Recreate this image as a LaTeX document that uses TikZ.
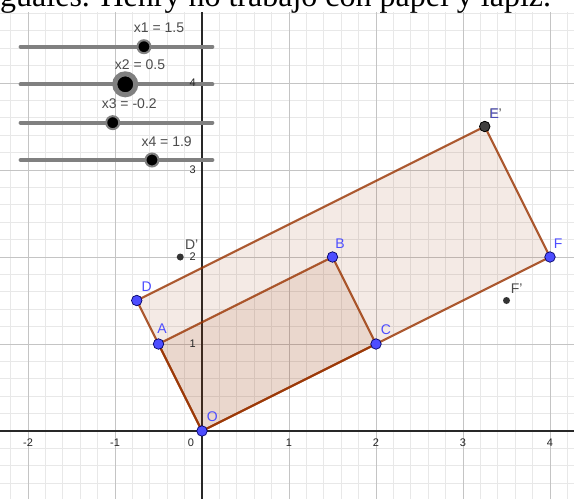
\documentclass[tikz,border=0pt]{standalone}
\usepackage{fontspec}
\setmainfont{Liberation Sans}
\newfontfamily\serifdoc{Liberation Serif}
\usetikzlibrary{calc}
\definecolor{poly}{RGB}{153,51,0}
\definecolor{ptblue}{RGB}{77,77,255}
\definecolor{gridminor}{RGB}{232,232,232}
\definecolor{gridmajor}{RGB}{196,196,196}
\definecolor{axiscol}{RGB}{40,40,40}
\definecolor{slidergray}{RGB}{128,128,128}
\tikzset{
  bpt/.style={circle, fill=ptblue, draw=black!60!blue, line width=0.7pt, minimum size=10.5pt, inner sep=0},
  kpt/.style={circle, fill=black!80, minimum size=7pt, inner sep=0},
  ept/.style={circle, fill=black!75, draw=black, line width=0.8pt, minimum size=10.5pt, inner sep=0},
  lbl/.style={text=ptblue, font=\fontsize{14}{16}\selectfont, inner sep=0},
  klbl/.style={text=black!70, font=\fontsize{14}{16}\selectfont, inner sep=0},
  tick/.style={text=black!85, font=\fontsize{11}{12}\selectfont, inner sep=0},
  slbl/.style={text=black!70, font=\fontsize{14}{16}\selectfont, inner sep=0},
  polyfill/.style={fill=poly, fill opacity=0.1},
  polyedge/.style={draw=poly, draw opacity=0.8, line width=2.2pt, line join=round},
  sliderline/.style={draw=slidergray, line width=4.2pt, line cap=round},
  knob/.style={circle, fill=black, draw=slidergray, line width=2pt, minimum size=13pt, inner sep=0},
  bigknob/.style={circle, fill=black, draw=slidergray, line width=5pt, minimum size=21pt, inner sep=0}
}
\begin{document}
\begin{tikzpicture}[x=87pt,y=87pt]
\useasboundingbox (-2.3218,-0.7701) rectangle (4.2759,4.9540);
\fill[white] (-2.3218,-0.7701) rectangle (4.2759,4.9540);
% grid and axes
\begin{scope}
\clip (-2.3218,-0.7701) rectangle (4.2759,4.816);
\draw[gridminor, line width=0.8pt] (-2.4,-0.8) grid[step=0.2] (4.4,5);
\draw[gridmajor, line width=0.8pt] (-3,-1) grid[step=1] (5,5);
\coordinate (xl) at (-2.4,0); \coordinate (xr) at (4.4,0);
\coordinate (yb) at (0,-0.8); \coordinate (yt) at (0,5);
\draw[axiscol, line width=1.2pt] (xl) -- (xr);
\draw[axiscol, line width=1.2pt] (yb) -- (yt);
\end{scope}
% top text strip
\begin{scope}
\clip (-2.3218,4.816) rectangle (4.2759,4.96);
\node[anchor=base west, inner sep=0, font=\serifdoc\fontsize{32}{38}\selectfont] (title) at (-2.3218,4.8736) {guales. Henry no trabajó con papel y lápiz.};
\end{scope}
% tick labels
\node[tick] (tm2) at (-2,-0.138) {-2};
\node[tick] (tm1) at (-1,-0.138) {-1};
\node[tick] (t0) at (-0.126,-0.138) {0};
\node[tick] (t1) at (1,-0.138) {1};
\node[tick] (t2) at (2,-0.138) {2};
\node[tick] (t3) at (3,-0.138) {3};
\node[tick] (t4) at (4,-0.138) {4};
% points
\coordinate (O) at (0,0);
\coordinate (A) at (-0.5,1);
\coordinate (B) at (1.5,2);
\coordinate (C) at (2,1);
\coordinate (D) at (-0.75,1.5);
\coordinate (E') at (3.25,3.5);
\coordinate (F) at (4,2);
\coordinate (D') at (-0.25,2);
\coordinate (F') at (3.5,1.5);
% polygons
\fill[polyfill] (O) -- (F) -- (E') -- (D) -- cycle;
\fill[polyfill] (O) -- (C) -- (B) -- (A) -- cycle;
\draw[polyedge] (O) -- (F) -- (E') -- (D) -- cycle;
\draw[polyedge] (O) -- (C) -- (B) -- (A) -- cycle;
% sliders
\coordinate (s1a) at (-2.084,4.417); \coordinate (s1b) at (0.118,4.417);
\coordinate (s2a) at (-2.084,3.985); \coordinate (s2b) at (0.118,3.985);
\coordinate (s3a) at (-2.084,3.544); \coordinate (s3b) at (0.118,3.544);
\coordinate (s4a) at (-2.084,3.115); \coordinate (s4b) at (0.118,3.115);
\draw[sliderline] (s1a) -- (s1b);
\draw[sliderline] (s2a) -- (s2b);
\draw[sliderline] (s3a) -- (s3b);
\draw[sliderline] (s4a) -- (s4b);
\node[knob] (k1) at (-0.667,4.417) {};
\node[bigknob] (k2) at (-0.882,3.985) {};
\node[knob] (k3) at (-1.026,3.544) {};
\node[knob] (k4) at (-0.575,3.115) {};
\node[slbl] (l1) at (-0.494,4.636) {x1 = 1.5};
\node[slbl] (l2) at (-0.713,4.207) {x2 = 0.5};
\node[slbl] (l3) at (-0.836,3.767) {x3 = -0.2};
\node[slbl] (l4) at (-0.406,3.325) {x4 = 1.9};
% y tick labels
\node[tick, anchor=east] (ty1) at (-0.07,1) {1};
\node[tick, anchor=east] (ty2) at (-0.07,2) {2};
\node[tick, anchor=east] (ty3) at (-0.07,3) {3};
\node[tick, anchor=east] (ty4) at (-0.07,4) {4};
% point markers
\node[kpt] (pD') at (D') {};
\node[kpt] (pF') at (F') {};
\node[ept] (pE') at (E') {};
\node[bpt] (pO) at (O) {};
\node[bpt] (pA) at (A) {};
\node[bpt] (pB) at (B) {};
\node[bpt] (pC) at (C) {};
\node[bpt] (pD) at (D) {};
\node[bpt] (pF) at (F) {};
% point labels
\node[lbl] (lO) at ($(O)+(0.119,0.164)$) {O};
\node[lbl] (lA) at ($(A)+(0.04,0.18)$) {A};
\node[lbl] (lB) at ($(B)+(0.086,0.157)$) {B};
\node[lbl] (lC) at ($(C)+(0.115,0.161)$) {C};
\node[lbl] (lD) at ($(D)+(0.114,0.159)$) {D};
\node[lbl] (lF) at ($(F)+(0.095,0.157)$) {F};
\node[klbl] (lD') at ($(D')+(0.132,0.138)$) {D'};
\node[klbl] (lF') at ($(F')+(0.117,0.132)$) {F'};
\node[klbl] (lE') at ($(E')+(0.125,0.144)$) {E'};
\node[lbl, opacity=0.6, anchor=west] (lE) at ($(lE'.west)+(0.005,0.005)$) {E};
\end{tikzpicture}
\end{document}
